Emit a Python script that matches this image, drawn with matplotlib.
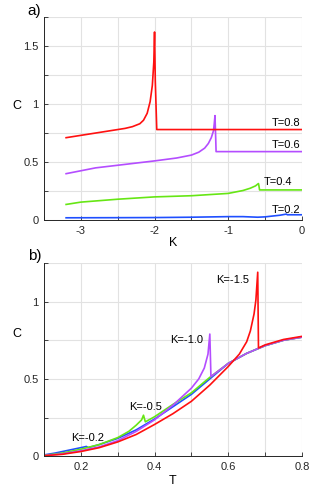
import matplotlib
matplotlib.use("Agg")
import matplotlib.pyplot as plt

plt.rcParams['font.family'] = ['Liberation Sans', 'DejaVu Sans']

# panel a) C versus K at fixed T
k_t08 = [-3.2, -3.0, -2.8, -2.6, -2.4, -2.3, -2.2, -2.15, -2.1, -2.06, -2.03,
         -2.01, -2.0, -1.99, -1.97, 0.0]
c_t08 = [0.71, 0.73, 0.75, 0.77, 0.79, 0.805, 0.83, 0.86, 0.92, 1.02, 1.16,
         1.36, 1.62, 1.2, 0.78, 0.78]

k_t06 = [-3.2, -2.8, -2.4, -2.0, -1.7, -1.5, -1.4, -1.32, -1.27, -1.23, -1.2,
         -1.19, -1.18, -1.17, -1.165, 0.0]
c_t06 = [0.40, 0.45, 0.48, 0.51, 0.535, 0.56, 0.585, 0.62, 0.66, 0.71, 0.77,
         0.83, 0.90, 0.70, 0.59, 0.59]

k_t04 = [-3.2, -3.0, -2.5, -2.0, -1.5, -1.0, -0.8, -0.7, -0.63, -0.59, -0.585,
         -0.575, 0.0]
c_t04 = [0.135, 0.155, 0.18, 0.20, 0.21, 0.23, 0.255, 0.275, 0.295, 0.315,
         0.30, 0.26, 0.26]

k_t02 = [-3.2, -2.5, -2.0, -1.5, -1.0, -0.8, -0.6, -0.5, -0.4, -0.3, -0.21,
         -0.2, 0.0]
c_t02 = [0.02, 0.021, 0.022, 0.025, 0.03, 0.03, 0.025, 0.028, 0.035, 0.042,
         0.052, 0.046, 0.046]

# panel b) C versus T at fixed K
t_km02 = [0.1, 0.13, 0.16, 0.19, 0.21, 0.215, 0.22, 0.25, 0.3, 0.35, 0.4,
          0.45, 0.5, 0.55, 0.6, 0.65, 0.7, 0.75, 0.8]
c_km02 = [0.008, 0.02, 0.035, 0.05, 0.06, 0.063, 0.055, 0.075, 0.115, 0.17,
          0.24, 0.32, 0.40, 0.50, 0.60, 0.665, 0.715, 0.75, 0.77]

t_km05 = [0.1, 0.15, 0.2, 0.25, 0.3, 0.33, 0.35, 0.365, 0.37, 0.375, 0.4,
          0.45, 0.5, 0.55, 0.6, 0.65, 0.7, 0.75, 0.8]
c_km05 = [0.005, 0.02, 0.045, 0.075, 0.12, 0.16, 0.2, 0.235, 0.265, 0.222,
          0.255, 0.335, 0.41, 0.51, 0.60, 0.665, 0.715, 0.75, 0.77]

t_km10 = [0.1, 0.15, 0.2, 0.25, 0.3, 0.35, 0.4, 0.45, 0.5, 0.52, 0.535, 0.545,
          0.55, 0.553, 0.6, 0.65, 0.7, 0.75, 0.8]
c_km10 = [0.004, 0.015, 0.035, 0.06, 0.10, 0.16, 0.235, 0.33, 0.44, 0.50,
          0.57, 0.66, 0.79, 0.515, 0.60, 0.665, 0.715, 0.75, 0.77]

t_km15 = [0.1, 0.15, 0.2, 0.25, 0.3, 0.35, 0.4, 0.45, 0.5, 0.55, 0.6, 0.63,
          0.65, 0.66, 0.67, 0.675, 0.68, 0.682, 0.7, 0.75, 0.8]
c_km15 = [0.003, 0.012, 0.03, 0.055, 0.092, 0.14, 0.205, 0.275, 0.355, 0.46,
          0.58, 0.66, 0.74, 0.81, 0.92, 1.01, 1.19, 0.70, 0.72, 0.755, 0.775]

ticks_a_x = [-3.5, -3.0, -2.5, -2.0, -1.5, -1.0, -0.5, 0.0]
labels_a_x = ['', '-3', '', '-2', '', '-1', '', '0']
ticks_a_y = [0, 0.25, 0.5, 0.75, 1.0, 1.25, 1.5, 1.75]
labels_a_y = ['0', '', '0.5', '', '1', '', '1.5', '']
ticks_b_x = [0.1, 0.2, 0.3, 0.4, 0.5, 0.6, 0.7, 0.8]
labels_b_x = ['', '0.2', '', '0.4', '', '0.6', '', '0.8']
ticks_b_y = [0, 0.25, 0.5, 0.75, 1.0, 1.25]
labels_b_y = ['0', '', '0.5', '', '1', '']

RED = '#ff1010'
PURPLE = '#b44dff'
GREEN = '#66e614'
BLUE = '#1f4fff'


def style_axes(ax):
    ax.grid(True, color='#e2e2e2', linewidth=0.8)
    ax.set_axisbelow(True)
    for side in ('top', 'right'):
        ax.spines[side].set_visible(False)
    for side in ('left', 'bottom'):
        ax.spines[side].set_color('#262626')
        ax.spines[side].set_linewidth(0.7)
    ax.tick_params(direction='in', length=3, width=0.6, colors='#262626',
                   labelsize=8, pad=4)


fig = plt.figure(figsize=(3.32, 4.98), dpi=100)
ax1 = fig.add_axes([0.1325, 0.558, 0.777, 0.408])
ax2 = fig.add_axes([0.1325, 0.084, 0.777, 0.388])

lw = 1.2
ax1.plot(k_t02, c_t02, color=BLUE, lw=lw)
ax1.plot(k_t04, c_t04, color=GREEN, lw=lw)
ax1.plot(k_t06, c_t06, color=PURPLE, lw=lw)
ax1.plot(k_t08, c_t08, color=RED, lw=lw)
ax1.set_xlim(-3.5, 0)
ax1.set_ylim(0, 1.75)
ax1.set_xticks(ticks_a_x)
ax1.set_xticklabels(labels_a_x)
ax1.set_yticks(ticks_a_y)
ax1.set_yticklabels(labels_a_y)
style_axes(ax1)
ax1.set_xlabel('K', fontsize=9, labelpad=1)
ax1.set_ylabel('C', fontsize=9, rotation=0)
ax1.yaxis.set_label_coords(-0.105, 0.53)
ax1.text(-0.02, 0.84, 'T=0.8', fontsize=8, ha='right', va='center')
ax1.text(-0.02, 0.645, 'T=0.6', fontsize=8, ha='right', va='center')
ax1.text(-0.52, 0.33, 'T=0.4', fontsize=8, ha='left', va='center')
ax1.text(-0.02, 0.09, 'T=0.2', fontsize=8, ha='right', va='center')
fig.text(0.083, 0.977, 'a)', fontsize=11, va='center')

ax2.plot(t_km02, c_km02, color=BLUE, lw=lw)
ax2.plot(t_km05, c_km05, color=GREEN, lw=lw)
ax2.plot(t_km10, c_km10, color=PURPLE, lw=lw)
ax2.plot(t_km15, c_km15, color=RED, lw=lw)
ax2.set_xlim(0.1, 0.8)
ax2.set_ylim(0, 1.25)
ax2.set_xticks(ticks_b_x)
ax2.set_xticklabels(labels_b_x)
ax2.set_yticks(ticks_b_y)
ax2.set_yticklabels(labels_b_y)
style_axes(ax2)
ax2.set_xlabel('T', fontsize=9, labelpad=2)
ax2.set_ylabel('C', fontsize=9, rotation=0)
ax2.yaxis.set_label_coords(-0.105, 0.6)
ax2.text(0.613, 1.14, 'K=-1.5', fontsize=8, ha='center', va='center')
ax2.text(0.488, 0.75, 'K=-1.0', fontsize=8, ha='center', va='center')
ax2.text(0.376, 0.32, 'K=-0.5', fontsize=8, ha='center', va='center')
ax2.text(0.218, 0.118, 'K=-0.2', fontsize=8, ha='center', va='center')
fig.text(0.083, 0.485, 'b)', fontsize=11, va='center')

fig.savefig('out.png', dpi=100)
